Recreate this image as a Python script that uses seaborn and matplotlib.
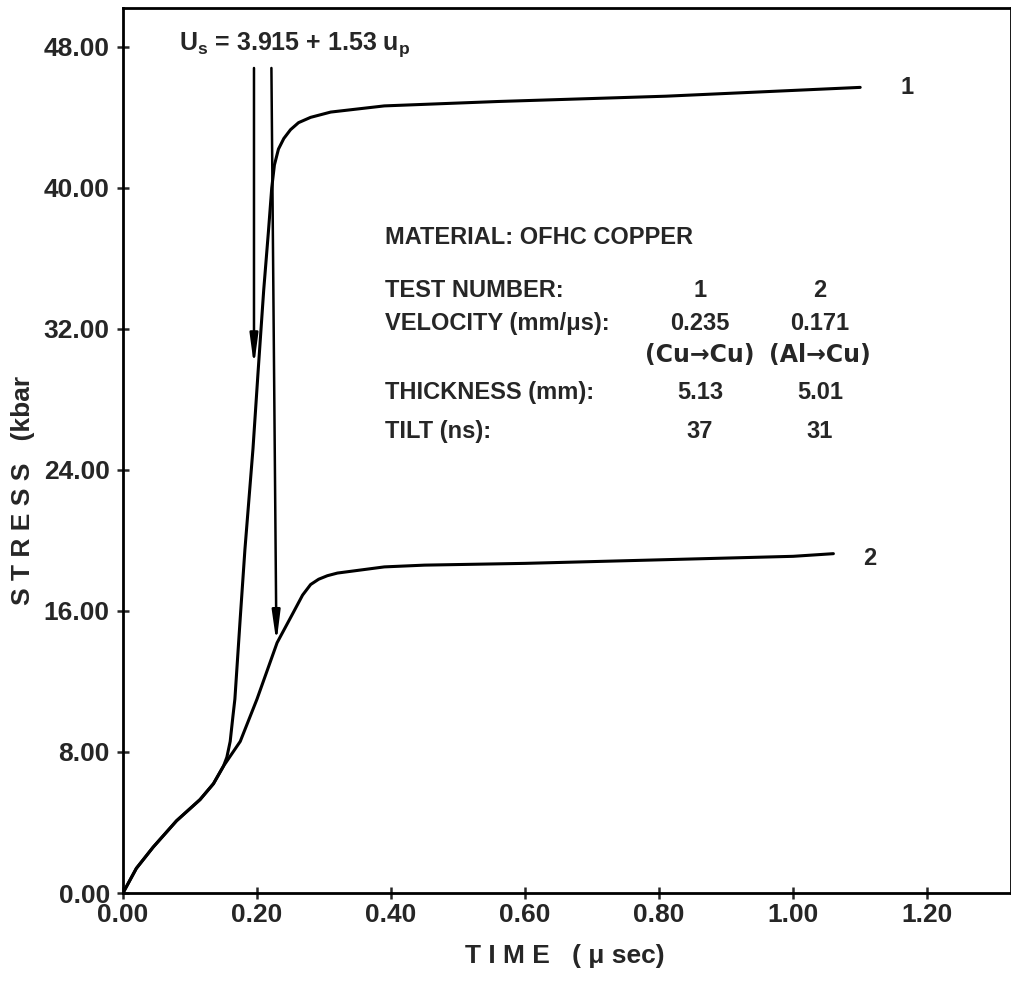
"""
Stress history of OFHC copper - two plate impact tests
"""

import numpy as np
import pandas as pd
import matplotlib
matplotlib.use("Agg")
import matplotlib.pyplot as plt
import seaborn as sns

# ============================================================================
# DATA
# ============================================================================

# test 1 (Cu -> Cu)
time_1 = [0.0, 0.02, 0.045, 0.08, 0.115, 0.135, 0.15, 0.155, 0.16, 0.164, 0.167,
          0.175, 0.182, 0.194, 0.2015, 0.21, 0.217, 0.222, 0.226, 0.232, 0.24,
          0.25, 0.262, 0.28, 0.31, 0.39, 0.56, 0.81, 1.1]
stress_1 = [0.0, 1.4, 2.6, 4.1, 5.3, 6.2, 7.2, 7.7, 8.6, 10.0, 11.0,
            15.6, 19.5, 25.2, 29.5, 34.2, 37.5, 40.0, 41.3, 42.2, 42.8,
            43.3, 43.7, 44.0, 44.3, 44.65, 44.9, 45.2, 45.7]

# test 2 (Al -> Cu)
time_2 = [0.0, 0.02, 0.045, 0.08, 0.115, 0.135, 0.15, 0.175, 0.2, 0.23, 0.254,
          0.268, 0.28, 0.292, 0.305, 0.32, 0.35, 0.39, 0.45, 0.6, 0.8, 1.0, 1.06]
stress_2 = [0.0, 1.4, 2.6, 4.1, 5.3, 6.2, 7.2, 8.6, 11.0, 14.2, 15.9,
            16.9, 17.5, 17.8, 18.0, 18.15, 18.3, 18.5, 18.6, 18.7, 18.9, 19.1, 19.25]

# arrival of the wave predicted by Us = 3.915 + 1.53 up
arrow_time = [0.1955, 0.2215]
arrow_time_tip = [0.1955, 0.229]
arrow_top = [46.8, 46.8]
arrow_tip = [29.9, 14.2]

x_ticks = [0.0, 0.2, 0.4, 0.6, 0.8, 1.0, 1.2]
y_ticks = [0, 8, 16, 24, 32, 40, 48]

table_rows = ["TEST NUMBER:", "VELOCITY (mm/\u03bcs):", "", "THICKNESS (mm):", "TILT (ns):"]
table_test_1 = ["1", "0.235", "(Cu\u2192Cu)", "5.13", "37"]
table_test_2 = ["2", "0.171", "(Al\u2192Cu)", "5.01", "31"]

# ============================================================================
# PLOT
# ============================================================================

sns.set_theme(style="ticks")
plt.rcParams['font.family'] = ['Liberation Sans', 'DejaVu Sans']
plt.rcParams['mathtext.fontset'] = 'custom'
plt.rcParams['mathtext.rm'] = 'Liberation Sans'
plt.rcParams['mathtext.bf'] = 'Liberation Sans:bold'

df1 = pd.DataFrame({'time': time_1, 'stress': stress_1})
df2 = pd.DataFrame({'time': time_2, 'stress': stress_2})

fig = plt.figure(figsize=(10.12, 9.82), dpi=100)
ax = fig.add_axes([0.1215, 0.0906, 0.8775, 0.9012])

sns.lineplot(data=df1, x='time', y='stress', sort=False, estimator=None,
             color='black', lw=2.2, ax=ax)
sns.lineplot(data=df2, x='time', y='stress', sort=False, estimator=None,
             color='black', lw=2.2, ax=ax)

for xt, xb, yt, yb in zip(arrow_time, arrow_time_tip, arrow_top, arrow_tip):
    ax.annotate("", xy=(xb, yb), xytext=(xt, yt),
                arrowprops=dict(arrowstyle="-|>,head_length=1.5,head_width=0.2",
                                color='black', lw=1.8, shrinkA=0, shrinkB=0))

fs = 17
ax.text(0.084, 48.1, r"U$_{\mathbf{s}}$ = 3.915 + 1.53 u$_{\mathbf{p}}$",
        fontsize=18, fontweight='bold', va='center', ha='left')

ax.text(1.17, 45.7, "1", fontsize=fs, fontweight='bold', va='center', ha='center')
ax.text(1.115, 19.0, "2", fontsize=fs, fontweight='bold', va='center', ha='center')

ax.text(0.391, 37.2, "MATERIAL: OFHC COPPER", fontsize=fs, fontweight='bold',
        va='center', ha='left')
row_y = [34.2, 32.3, 30.5, 28.4, 26.2]
col_x = [0.861, 1.04]
for i, (yy, lab, v1, v2) in enumerate(zip(row_y, table_rows, table_test_1, table_test_2)):
    # the material pair row uses DejaVu for its heavier arrow glyph
    fam = ['DejaVu Sans'] if '\u2192' in v1 else ['Liberation Sans', 'DejaVu Sans']
    ax.text(0.391, yy, lab, fontsize=fs, fontweight='bold', va='center', ha='left')
    ax.text(col_x[0], yy, v1, fontsize=fs, fontweight='bold', va='center',
            ha='center', family=fam)
    ax.text(col_x[1], yy, v2, fontsize=fs, fontweight='bold', va='center',
            ha='center', family=fam)

ax.set_xlim(0, 1.325)
ax.set_ylim(0, 50.2)
ax.set_xticks(x_ticks)
ax.set_yticks(y_ticks)
ax.set_xticklabels([f"{v:.2f}" for v in x_ticks])
ax.set_yticklabels([f"{v:.2f}" for v in y_ticks])
ax.tick_params(direction='inout', length=9, width=1.8, labelsize=19)
ax.tick_params(axis='x', pad=3)
ax.tick_params(axis='y', pad=5)
for lab in ax.get_xticklabels() + ax.get_yticklabels():
    lab.set_fontweight('bold')

for side in ['left', 'bottom', 'top', 'right']:
    ax.spines[side].set_linewidth(2.0)
    ax.spines[side].set_color('black')

ax.set_xlabel("T I M E   ( \u03bc sec)", fontsize=19, fontweight='bold')
ax.set_ylabel("S T R E S S   (kbar", fontsize=19, fontweight='bold')
ax.xaxis.set_label_coords(0.498, -0.058)
ax.yaxis.set_label_coords(-0.099, 0.455)

fig.savefig("out.png", dpi=100)
